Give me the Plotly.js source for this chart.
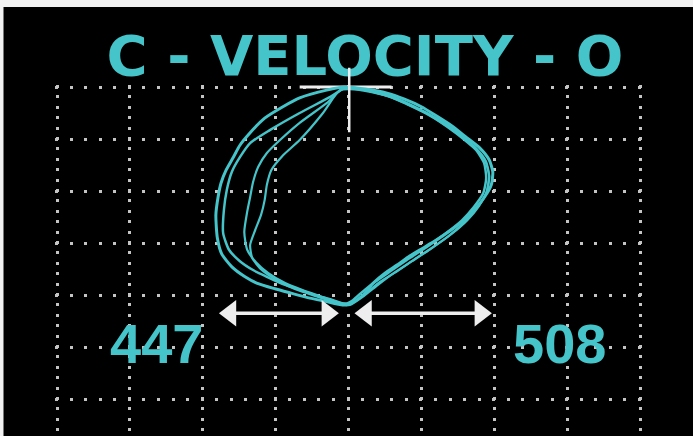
<!DOCTYPE html>
<html>
<head>
<meta charset="utf-8">
<script src="https://cdn.plot.ly/plotly-3.0.1.min.js"></script>
<style>
html,body{margin:0;padding:0;background:#000;}
#chart{width:693px;height:436px;}
</style>
</head>
<body>
<div id="chart"></div>
<script>
// Loop traces (grid units: x across, y down from top gridline)
const loop1X = [3.95,3.70,3.33,3.10,2.85,2.65,2.51,2.42,2.32,2.25,2.21,2.18,2.20,2.26,2.40,2.58,2.74,2.99,3.20,3.47,3.68,3.92,4.05,4.20,4.34,4.50,4.67,4.84,5.02,5.21,5.39,5.57,5.72,5.86,5.96,5.98,5.93,5.80,5.61,5.42,5.21,5.00,4.76,4.53,4.23,3.95];
const loop1Y = [0,-0.06,-0.21,-0.38,-0.60,-0.88,-1.12,-1.35,-1.60,-1.85,-2.12,-2.46,-2.90,-3.21,-3.46,-3.65,-3.77,-3.88,-3.96,-4.06,-4.12,-4.19,-4.15,-4.00,-3.77,-3.58,-3.42,-3.25,-3.10,-2.94,-2.77,-2.58,-2.37,-2.13,-1.88,-1.63,-1.40,-1.17,-0.96,-0.75,-0.56,-0.38,-0.23,-0.12,-0.04,0];

const loop2X = [3.95,3.75,3.33,2.92,2.65,2.51,2.40,2.33,2.29,2.28,2.36,2.51,2.69,2.88,3.10,3.33,3.58,3.79,3.95,4.06,4.19,4.36,4.60,4.84,5.09,5.34,5.56,5.72,5.85,5.89,5.86,5.75,5.56,5.34,5.12,4.89,4.64,4.36,4.09,3.95];
const loop2Y = [-0.02,-0.19,-0.50,-0.83,-1.08,-1.35,-1.63,-1.98,-2.37,-2.81,-3.13,-3.35,-3.52,-3.65,-3.79,-3.90,-4.02,-4.10,-4.17,-4.10,-3.94,-3.75,-3.52,-3.29,-3.06,-2.81,-2.56,-2.31,-2.04,-1.75,-1.46,-1.21,-0.98,-0.75,-0.54,-0.37,-0.21,-0.10,-0.02,-0.02];

const loop3X = [3.92,3.70,3.33,3.06,2.88,2.76,2.69,2.65,2.61,2.57,2.61,2.73,2.90,3.13,3.36,3.61,3.88,4.05,4.24,4.43,4.67,4.91,5.16,5.41,5.63,5.79,5.90,5.93,5.87,5.72,5.52,5.28,5.05,4.80,4.54,4.23,3.92];
const loop3Y = [-0.04,-0.31,-0.69,-1.02,-1.27,-1.54,-1.83,-2.12,-2.40,-2.79,-3.13,-3.37,-3.58,-3.77,-3.90,-4.02,-4.15,-4.15,-3.96,-3.75,-3.54,-3.31,-3.08,-2.83,-2.56,-2.29,-2.00,-1.71,-1.40,-1.15,-0.92,-0.69,-0.50,-0.33,-0.17,-0.06,-0.04];

const loop4X = [3.88,3.65,3.33,3.09,2.94,2.88,2.85,2.80,2.72,2.65,2.68,2.81,3.06,3.33,3.64,3.91,4.02,4.21,4.40,4.62,4.87,5.12,5.37,5.59,5.76,5.89,5.93,5.89,5.76,5.57,5.35,5.12,4.87,4.61,4.32,4.02,3.88];
const loop4Y = [-0.06,-0.50,-1.02,-1.33,-1.60,-1.88,-2.17,-2.46,-2.75,-3.04,-3.29,-3.52,-3.75,-3.92,-4.06,-4.19,-4.19,-4.02,-3.81,-3.58,-3.35,-3.12,-2.87,-2.60,-2.33,-2.04,-1.73,-1.44,-1.19,-0.96,-0.73,-0.54,-0.37,-0.21,-0.10,-0.04,-0.06];

// Interval arrows and their labels
const arrowLeftX = [2.38, 3.71];
const arrowRightX = [4.24, 5.81];
const arrowY = [-4.35, -4.35];
const intervalLabels = ["447", "508"];
const intervalLabelX = [1.365, 6.90];
const intervalLabelY = -4.94;

// Reference marker (white vertical + baseline)
const markerX = 4.01;
const markerY = [-0.87, 0.40];
const baseX = [3.33, 4.59];
const baseY = [0, 0];

const titleText = "C - VELOCITY - O";

const cyan = "#45c4c9";
const white = "#eeeeee";

const loops = [[loop1X, loop1Y, 3], [loop2X, loop2Y, 2.5], [loop3X, loop3Y, 2.2], [loop4X, loop4Y, 2.2]];
const traces = [{x: baseX, y: baseY, mode: "lines", type: "scatter",
  line: {color: white, width: 3}, hoverinfo: "skip", showlegend: false}];

loops.forEach(l => traces.push({
  x: l[0], y: l[1], mode: "lines", type: "scatter",
  line: {color: cyan, width: l[2], shape: "spline", smoothing: 0.6},
  hoverinfo: "skip", showlegend: false
}));

[arrowLeftX, arrowRightX].forEach(ax => {
  traces.push({x: ax, y: arrowY, mode: "lines+markers", type: "scatter",
    line: {color: white, width: 3.5},
    marker: {symbol: ["triangle-left", "triangle-right"], size: 23, color: white, line: {width: 0}},
    hoverinfo: "skip", showlegend: false, cliponaxis: false});
});

const annotations = intervalLabels.map((t, i) => ({
  text: t, x: intervalLabelX[i], y: intervalLabelY, xref: "x", yref: "y",
  showarrow: false, xanchor: "center", yanchor: "middle",
  font: {family: "Liberation Sans, Arial, sans-serif", size: 56, color: cyan, weight: "bold"}
}));

annotations.push({
  x: markerX, y: markerY[0], xref: "x", yref: "y",
  ax: markerX, ay: markerY[1], axref: "x", ayref: "y",
  showarrow: true, arrowhead: 0, arrowwidth: 2.5, arrowcolor: white, text: ""
});

const xPad = 2 / 72.875, yPad = 2 / 52;

const layout = {
  width: 693, height: 436,
  paper_bgcolor: "#000", plot_bgcolor: "#000",
  margin: {l: 55, r: 51, t: 85, b: 0, pad: 0},
  title: {
    text: titleText, xref: "paper", x: 0.528, xanchor: "center",
    yref: "container", y: 0.872, yanchor: "middle",
    font: {family: "DejaVu Sans, sans-serif", size: 56, color: cyan, weight: "bold"}
  },
  xaxis: {range: [0 - xPad, 8 + xPad], dtick: 1, tick0: 0, showgrid: true, gridcolor: "#c4c4c4", gridwidth: 3,
    griddash: "3px,7.4px", zeroline: false, showline: false, showticklabels: false, ticks: "", fixedrange: true},
  yaxis: {range: [-351/52 + yPad, yPad], dtick: 1, tick0: 0, showgrid: true, gridcolor: "#c4c4c4", gridwidth: 3,
    griddash: "3px,11.575px", zeroline: false, showline: false, showticklabels: false, ticks: "", fixedrange: true},
  shapes: [
    {type: "rect", xref: "paper", yref: "paper", x0: -0.2, x1: 1.2, y0: (436-7)/351, y1: 1.4,
      fillcolor: "#f2f2f2", line: {width: 0}},
    {type: "rect", xref: "paper", yref: "paper", x0: -0.2, x1: -51.5/587, y0: -0.1, y1: 1.4,
      fillcolor: "#f2f2f2", line: {width: 0}}
  ],
  annotations: annotations,
  showlegend: false
};

Plotly.newPlot("chart", traces, layout, {displayModeBar: false, staticPlot: true});
</script>
</body>
</html>
